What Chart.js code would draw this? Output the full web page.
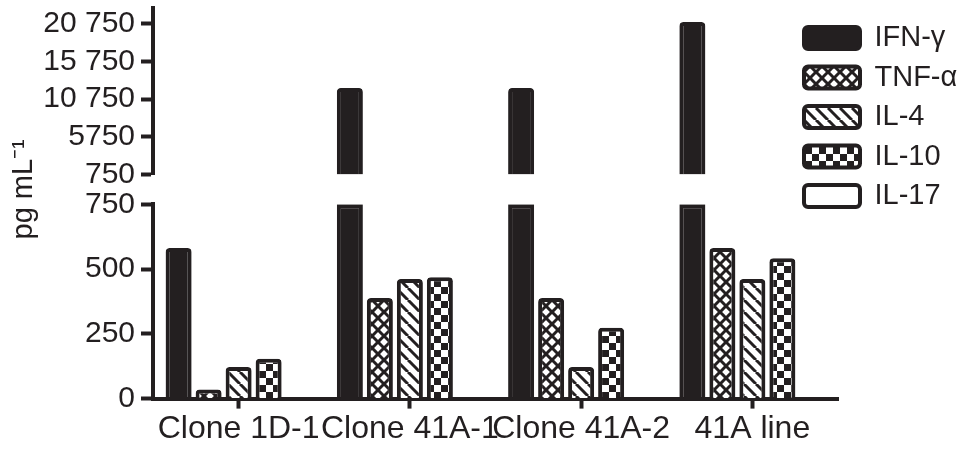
<!DOCTYPE html>
<html><head><meta charset="utf-8">
<script src="https://cdn.jsdelivr.net/npm/chart.js@4/dist/chart.umd.min.js"></script>
<style>html,body{margin:0;padding:0;background:#fff;overflow:hidden}</style>
</head><body>
<canvas id="c" width="972" height="449"></canvas>
<script>
// ---- data ----
const categories = ['Clone 1D-1', 'Clone 41A-1', 'Clone 41A-2', '41A line'];
const seriesNames = ['IFN-γ', 'TNF-α', 'IL-4', 'IL-10', 'IL-17'];
const ifnValues  = [581, 12250, 12250, 21000];
const tnfValues  = [35, 388, 388, 581];
const il4Values  = [122, 462, 122, 462];
const il10Values = [154, 468, 273, 542];
const il17Values = [0, 0, 0, 0];
const breakValue = 750;
const upperTicks = [750, 5750, 10750, 15750, 20750];
const upperTickLabels = ['750', '5750', '10 750', '15 750', '20 750'];
const lowerTicks = [0, 250, 500, 750];
const lowerTickLabels = ['0', '250', '500', '750'];
const axisTitle = 'pg mL⁻¹';

// ---- styles ----
const INK = '#231f20';
const FONT = "'Liberation Sans', Arial, Helvetica, sans-serif";

function makePattern(size, draw) {
  const c = document.createElement('canvas');
  c.width = size; c.height = size;
  const g = c.getContext('2d');
  g.fillStyle = '#ffffff'; g.fillRect(0, 0, size, size);
  g.fillStyle = INK; g.strokeStyle = INK;
  draw(g, size);
  return g.createPattern(c, 'repeat');
}
const ctx0 = document.getElementById('c').getContext('2d');
const crossPattern = makePattern(12, (g, s) => {
  g.lineWidth = 3;
  for (let k = -1; k <= 1; k++) {
    g.beginPath(); g.moveTo(k * s, 0); g.lineTo(k * s + s, s); g.stroke();
    g.beginPath(); g.moveTo(k * s + s, 0); g.lineTo(k * s, s); g.stroke();
  }
});
const diagPattern = makePattern(12, (g, s) => {
  g.lineWidth = 3;
  for (let k = -1; k <= 1; k++) {
    g.beginPath(); g.moveTo(k * s, 0); g.lineTo(k * s + s, s); g.stroke();
  }
});
const checkPattern = makePattern(14, (g, s) => {
  g.fillRect(0, 0, s / 2, s / 2);
  g.fillRect(s / 2, s / 2, s / 2, s / 2);
});

const legendPlacer = {
  id: 'legendPlacer',
  afterLayout(chart) {
    const lg = chart.legend;
    if (!lg) return;
    const w = lg.width, h = lg.height;
    lg.left = chart.chartArea.right - 44.5;
    lg.top = 13;
    lg.right = lg.left + w;
    lg.bottom = lg.top + h;
  }
};

const commonBar = { borderColor: INK, borderWidth: 4, borderRadius: 4 };

const yCommon = {
  type: 'linear', axis: 'y', position: 'left', stack: 'v', stacked: false,
  grid: { display: true, drawOnChartArea: false, drawTicks: true, tickLength: 12, tickWidth: 4, tickColor: INK },
  border: { display: true, width: 4, color: INK },
  ticks: { font: { family: FONT, size: 30 }, color: INK, padding: 6, autoSkip: false },
  afterFit: s => { s.width = 150; s.paddingTop = 0; s.paddingBottom = 0; }
};

new Chart(ctx0, {
  type: 'bar',
  data: {
    labels: categories,
    datasets: [
      { label: seriesNames[0], data: ifnValues.map(v => v > breakValue ? [breakValue, v] : null),
        yAxisID: 'yTop', stack: 'ifn', backgroundColor: INK, ...commonBar },
      { label: seriesNames[0], data: ifnValues.map(v => Math.min(v, breakValue)),
        yAxisID: 'yBot', stack: 'ifn', backgroundColor: INK, ...commonBar,
        borderRadius: c => (c.raw !== undefined && c.raw >= breakValue) ? 0 : 4 },
      { label: seriesNames[1], data: tnfValues, yAxisID: 'yBot', backgroundColor: crossPattern, ...commonBar },
      { label: seriesNames[2], data: il4Values, yAxisID: 'yBot', backgroundColor: diagPattern, ...commonBar },
      { label: seriesNames[3], data: il10Values, yAxisID: 'yBot', backgroundColor: checkPattern, ...commonBar },
      { label: seriesNames[4], data: il17Values, yAxisID: 'yBot', backgroundColor: '#ffffff', ...commonBar }
    ]
  },
  options: {
    responsive: false,
    devicePixelRatio: 1,
    animation: false,
    categoryPercentage: 0.876,
    barPercentage: 0.867,
    layout: { padding: { left: 3, top: 8, right: 134, bottom: 0 } },
    plugins: {
      tooltip: { enabled: false },
      legend: {
        display: true,
        position: 'chartArea',
        align: 'start',
        labels: {
          font: { family: FONT, size: 29 },
          color: INK,
          boxWidth: 56,
          boxHeight: 22,
          padding: 10.5,
          useBorderRadius: true,
          borderRadius: 4,
          filter: item => item.datasetIndex !== 1
        }
      }
    },
    scales: {
      x: {
        type: 'category',
        grid: { display: true, drawOnChartArea: false, drawTicks: true, tickLength: 10, tickWidth: 4, tickColor: INK, offset: false },
        border: { display: true, width: 4, color: INK },
        ticks: { font: { family: FONT, size: 32 }, color: INK, padding: 1, maxRotation: 0, autoSkip: false }
      },
      yBot: Object.assign({}, yCommon, {
        min: 0, max: breakValue, stackWeight: 195, weight: 1,
        afterBuildTicks: s => { s.ticks = lowerTicks.map(v => ({ value: v })); },
        ticks: Object.assign({}, yCommon.ticks, { callback: v => lowerTickLabels[lowerTicks.indexOf(v)] })
      }),
      yGap: Object.assign({}, yCommon, {
        min: 0, max: 1, stackWeight: 30, weight: 2,
        grid: { display: false }, border: { display: false },
        ticks: { display: false },
        title: { display: true, text: axisTitle, color: INK, font: { family: FONT, size: 29 }, padding: { top: 4, bottom: 4 } }
      }),
      yTop: Object.assign({}, yCommon, {
        min: breakValue, max: 22870, stackWeight: 167, weight: 3,
        afterBuildTicks: s => { s.ticks = upperTicks.map(v => ({ value: v })); },
        ticks: Object.assign({}, yCommon.ticks, { callback: v => upperTickLabels[upperTicks.indexOf(v)] })
      })
    }
  },
  plugins: [legendPlacer]
});
</script>
</body></html>
